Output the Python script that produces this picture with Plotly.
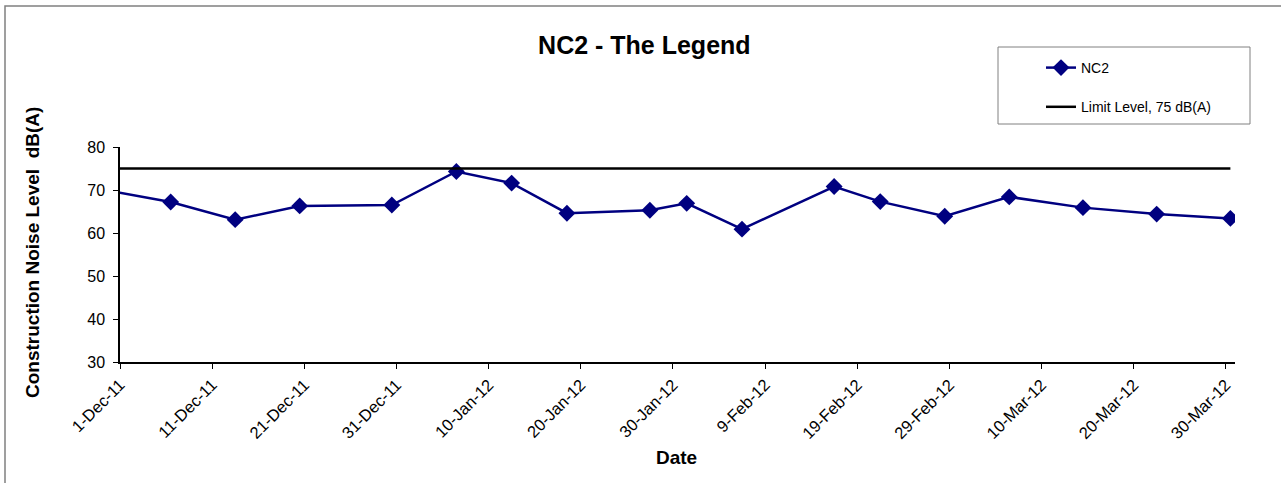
import plotly.graph_objects as go
import pandas as pd

# Data
dates = ["2011-11-25", "2011-12-06", "2011-12-13", "2011-12-20", "2011-12-30",
         "2012-01-06", "2012-01-12", "2012-01-18", "2012-01-27", "2012-01-31",
         "2012-02-06", "2012-02-16", "2012-02-21", "2012-02-28", "2012-03-06",
         "2012-03-14", "2012-03-22", "2012-03-30"]
nc2 = [71.5, 67.2, 63.1, 66.3, 66.5,
       74.3, 71.6, 64.6, 65.3, 66.9,
       60.9, 70.8, 67.3, 63.9, 68.4,
       65.9, 64.4, 63.4]
limit_level = [75] * len(dates)

series_names = ["NC2", "Limit Level, 75 dB(A)"]
title_text = "NC2 - The Legend"
x_title = "Date"
y_title = "Construction Noise Level  dB(A)"
y_ticks = [30, 40, 50, 60, 70, 80]

# Excel date axis places points in the middle of each day
x_pos = pd.to_datetime(dates) + pd.Timedelta(hours=12)

FONT = "Liberation Sans, Arial, sans-serif"
NAVY = "#000080"

fig = go.Figure()
fig.add_trace(go.Scatter(
    x=x_pos, y=nc2, name=series_names[0], mode="lines+markers",
    line=dict(color=NAVY, width=2.5),
    marker=dict(symbol="diamond", size=13, color=NAVY),
    legendgroup="a",
))
fig.add_trace(go.Scatter(
    x=x_pos, y=limit_level, name=series_names[1], mode="lines",
    line=dict(color="black", width=2.5),
    legendgroup="b",
))

W, H = 1281, 483
L, R, T, B = 120, 46, 147, 121
pw = W - L - R
ph = H - T - B


def px_x(x):
    return (x - L) / pw


def px_y(y):
    return (H - B - y) / ph


fig.update_layout(
    width=W, height=H,
    margin=dict(l=L, r=R, t=T, b=B),
    paper_bgcolor="white", plot_bgcolor="white",
    font=dict(family=FONT, size=15, color="black"),
    title=dict(text="<b>" + title_text + "</b>", x=0.503, xref="container",
               y=1 - 45 / H, yref="container", xanchor="center", yanchor="middle",
               font=dict(size=25, family=FONT, color="black")),
    showlegend=True,
    legend=dict(
        x=px_x(1041), y=px_y(52), xanchor="left", yanchor="top",
        borderwidth=0, bgcolor="rgba(0,0,0,0)",
        font=dict(size=14, family=FONT),
        tracegroupgap=18,
    ),
    xaxis=dict(
        type="date",
        range=["2011-12-01", "2012-03-31"],
        tick0="2011-12-01", dtick=10 * 24 * 3600 * 1000,
        tickformat="%-d-%b-%y", tickangle=-45,
        ticks="outside", ticklen=5, tickcolor="black",
        showline=True, linecolor="black", linewidth=1.5,
        showgrid=False, zeroline=False,
        tickfont=dict(size=16.5, family=FONT),
    ),
    yaxis=dict(
        range=[30, 80], tickvals=y_ticks,
        ticks="outside", ticklen=5, tickcolor="black",
        showline=True, linecolor="black", linewidth=1.5,
        showgrid=False, zeroline=False,
        ticklabelstandoff=5,
        tickfont=dict(size=16, family=FONT),
    ),
    annotations=[
        dict(text="<b>" + x_title + "</b>", xref="paper", yref="paper",
             x=px_x(676), y=px_y(457),
             showarrow=False, xanchor="center", yanchor="middle",
             font=dict(size=19, family=FONT)),
        dict(text="<b>" + y_title + "</b>", xref="paper", yref="paper",
             x=px_x(32), y=px_y(253), textangle=-90,
             showarrow=False, xanchor="center", yanchor="middle",
             font=dict(size=19, family=FONT)),
    ],
    shapes=[
        # chart-area frame (only top and left edges visible)
        dict(type="rect", xref="paper", yref="paper",
             x0=px_x(5), x1=px_x(W + 20), y0=px_y(H + 20), y1=px_y(6),
             line=dict(color="#808080", width=1.5), layer="below"),
        # legend box
        dict(type="rect", xref="paper", yref="paper",
             x0=px_x(998), x1=px_x(1250), y0=px_y(124), y1=px_y(47),
             line=dict(color="#808080", width=1), fillcolor="white",
             layer="below"),
    ],
)

fig.write_html("out.html",
               config={"displayModeBar": False},
               post_script="document.body.style.margin='0';document.body.style.padding='0';")
